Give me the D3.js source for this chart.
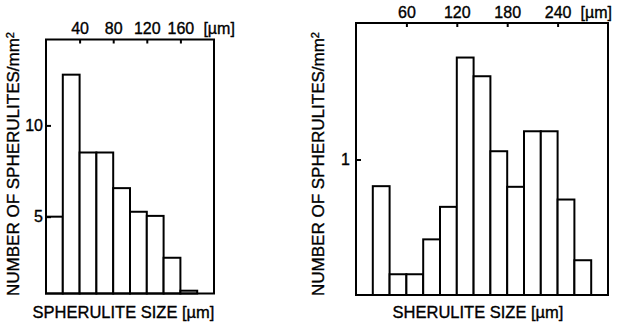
<!DOCTYPE html>
<html>
<head>
<meta charset="utf-8">
<script src="https://cdn.jsdelivr.net/npm/d3@7"></script>
<style>
    body { margin: 0; background: #fff; }
    svg { display: block; }
    text { font-family: "Liberation Sans", Arial, sans-serif; fill: #000; stroke: #000; stroke-width: 0.35px; }
</style>
</head>
<body>
<div id="chart"></div>
<script>
// left histogram: bin start (um) and number of spherulites per mm2
var leftBins = [0, 20, 40, 60, 80, 100, 120, 140, 160];
var leftCounts = [5.0, 14.7, 8.14, 8.14, 6.21, 5.19, 5.03, 3.66, 2.85];
var leftTopTicks = [40, 80, 120, 160];
var leftYTicks = [5, 10];

// right histogram
var rightBins = [20, 40, 60, 80, 100, 120, 140, 160, 180, 200, 220, 240, 260];
var rightCounts = [0.816, 0.417, 0.417, 0.544, 0.697, 2.175, 1.886, 1.065, 0.812, 1.24, 1.24, 0.737, 0.464];
var rightTopTicks = [60, 120, 180, 240];
var rightYTicks = [1];

var binWidth = 20;

function init() {
    var w = 620;
    var h = 327;

    var svg = d3.select("#chart")
        .append("svg")
        .attr("width", w)
        .attr("height", h);

    drawPanel(svg, {
        bins: leftBins, counts: leftCounts,
        topTicks: leftTopTicks, yTicks: leftYTicks,
        xDomain: [0, 200], yDomain: [2.79, 19.2],
        left: 46, right: 214, top: 39.5, bottom: 293.5,
        topPad: 5.5, yPad: 3,
        xLabel: "SPHERULITE SIZE [\u00b5m]", xLabelX: 123.5,
        yLabelX: 19, yLabelY: 164
    });

    drawPanel(svg, {
        bins: rightBins, counts: rightCounts,
        topTicks: rightTopTicks, yTicks: rightYTicks,
        xDomain: [0, 300], yDomain: [0.356, 2.83],
        left: 356, right: 608, top: 23, bottom: 295,
        topPad: 5, yPad: 6,
        xLabel: "SHERULITE SIZE [\u00b5m]", xLabelX: 478,
        yLabelX: 324, yLabelY: 164
    });

    function drawPanel(svg, p) {
        var xScale = d3.scaleLinear()
            .domain(p.xDomain)
            .range([p.left, p.right]);

        var yScale = d3.scaleLog()
            .domain(p.yDomain)
            .range([p.bottom, p.top]);

        var g = svg.append("g");

        // bars
        g.selectAll("rect.bar")
            .data(p.counts)
            .enter()
            .append("rect")
            .attr("class", "bar")
            .attr("x", function (d, i) { return xScale(p.bins[i]); })
            .attr("y", function (d) { return yScale(d); })
            .attr("width", function (d, i) { return xScale(p.bins[i] + binWidth) - xScale(p.bins[i]); })
            .attr("height", function (d) { return p.bottom - yScale(d); })
            .attr("fill", "#fff")
            .attr("stroke", "#000")
            .attr("stroke-width", 2);

        // frame
        g.append("rect")
            .attr("x", p.left)
            .attr("y", p.top)
            .attr("width", p.right - p.left)
            .attr("height", p.bottom - p.top)
            .attr("fill", "none")
            .attr("stroke", "#000")
            .attr("stroke-width", 2);

        var topAxis = d3.axisTop(xScale)
            .tickValues(p.topTicks)
            .tickSize(-4)
            .tickPadding(p.topPad)
            .tickFormat(d3.format("d"));

        var ta = g.append("g")
            .attr("transform", "translate(0," + p.top + ")")
            .call(topAxis);
        ta.select(".domain").remove();
        ta.selectAll("line").attr("stroke-width", 2);
        ta.selectAll("text")
            .style("font-family", "'Liberation Sans', Arial, sans-serif")
            .style("font-size", "16px");

        // unit after the last top tick
        var last = p.topTicks[p.topTicks.length - 1];
        g.append("text")
            .attr("x", xScale(last) + 23)
            .attr("y", p.top - p.topPad)
            .style("font-size", "16px")
            .text("[\u00b5m]");

        var leftAxis = d3.axisLeft(yScale)
            .tickValues(p.yTicks)
            .tickSize(-5)
            .tickPadding(p.yPad)
            .tickFormat(d3.format("d"));

        var la = g.append("g")
            .attr("transform", "translate(" + p.left + ",0)")
            .call(leftAxis);
        la.select(".domain").remove();
        la.selectAll("line").attr("stroke-width", 2);
        la.selectAll("text")
            .style("font-family", "'Liberation Sans', Arial, sans-serif")
            .style("font-size", "16px");

        // axis titles
        g.append("text")
            .attr("x", p.xLabelX)
            .attr("y", 318)
            .attr("text-anchor", "middle")
            .style("font-size", "16.5px")
            .text(p.xLabel);

        var yl = g.append("text")
            .attr("transform", "translate(" + p.yLabelX + "," + p.yLabelY + ") rotate(-90)")
            .attr("text-anchor", "middle")
            .style("font-size", "17px");
        yl.append("tspan").text("NUMBER OF SPHERULITES/mm");
        yl.append("tspan")
            .attr("dy", "-0.45em")
            .style("font-size", "11px")
            .text("2");
    }
}

window.onload = init;
</script>
</body>
</html>
